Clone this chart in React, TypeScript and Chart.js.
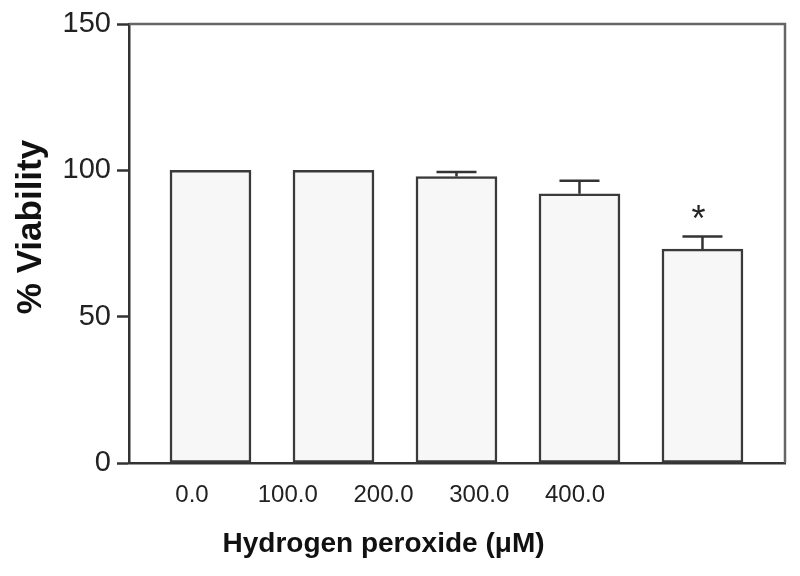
import { useEffect, useRef } from 'react';
import { Chart, registerables } from 'chart.js';

Chart.register(...registerables);

const categories = ['0.0', '100.0', '200.0', '300.0', '400.0'];
const viability = [100, 100, 97.9, 92.0, 73.1];
const errorUp = [0, 0, 1.5, 4.4, 4.3];
const significant = [false, false, false, false, true];
const yTicks = [0, 50, 100, 150];
const xTitle = 'Hydrogen peroxide (\u03bcM)';
const yTitle = '% Viability';

const FONT = '"Liberation Sans", Arial, Helvetica, sans-serif';

const overlay = {
  id: 'overlay',
  afterDatasetsDraw(chart: any) {
    const { ctx, chartArea, scales } = chart;
    const x = scales.x;
    const y = scales.y;
    const xl = scales.xl;
    ctx.save();
    // error bars (upper only)
    ctx.strokeStyle = '#333';
    ctx.lineWidth = 2.5;
    viability.forEach((v, i) => {
      const e = errorUp[i];
      const px = x.getPixelForValue(i);
      const top = y.getPixelForValue(v);
      const end = y.getPixelForValue(v + e);
      if (e) {
        ctx.beginPath();
        ctx.moveTo(px, top);
        ctx.lineTo(px, end);
        ctx.moveTo(px - 20, end);
        ctx.lineTo(px + 20, end);
        ctx.stroke();
      }
      if (significant[i]) {
        ctx.fillStyle = '#222';
        ctx.font = '36px ' + FONT;
        ctx.textAlign = 'center';
        ctx.textBaseline = 'alphabetic';
        ctx.fillText('*', px - 4, end - 5);
      }
    });
    // frame top & right
    ctx.strokeStyle = '#666';
    ctx.lineWidth = 2.5;
    ctx.beginPath();
    ctx.moveTo(chartArea.left, chartArea.top);
    ctx.lineTo(chartArea.right, chartArea.top);
    ctx.lineTo(chartArea.right, chartArea.bottom);
    ctx.stroke();

    // x title centred under the middle label
    ctx.fillStyle = '#111';
    ctx.font = 'bold 28px ' + FONT;
    ctx.textAlign = 'center';
    ctx.textBaseline = 'alphabetic';
    const mid = xl.getPixelForValue((categories.length - 1) / 2);
    ctx.fillText(xTitle, mid, 552);

    // y title
    ctx.translate(31, 227);
    ctx.rotate(-Math.PI / 2);
    ctx.font = 'bold 35px ' + FONT;
    ctx.textBaseline = 'middle';
    ctx.fillText(yTitle, 0, 0);
    ctx.restore();
  },
};

export default function App() {
  const ref = useRef<HTMLCanvasElement | null>(null);

  useEffect(() => {
    if (!ref.current) return;
    const chart = new Chart(ref.current, {
      type: 'bar',
      data: {
        datasets: [
          {
            data: viability.map((v, i) => ({ x: i, y: v })),
            backgroundColor: '#f7f7f7',
            borderColor: '#3a3a3a',
            borderWidth: 2.5,
            borderSkipped: false,
            barThickness: 81,
          },
        ],
      },
      options: {
        animation: false,
        responsive: true,
        maintainAspectRatio: false,
        layout: { padding: { top: 24, right: 15, left: 0, bottom: 0 } },
        plugins: { legend: { display: false }, tooltip: { enabled: false } },
        scales: {
          x: {
            type: 'linear',
            position: 'bottom',
            weight: 0,
            offset: false,
            min: -0.6626,
            max: 4.671,
            grid: { display: false, drawTicks: false, offset: false },
            border: { display: true, color: '#333', width: 2.5 },
            ticks: { display: false },
            afterBuildTicks: (s: any) => {
              s.ticks = categories.map((_, i) => ({ value: i }));
            },
            afterFit: (s: any) => {
              s.height = 0;
            },
          },
          xl: {
            type: 'linear',
            position: 'bottom',
            weight: 1,
            offset: false,
            min: -0.658,
            max: 6.193,
            grid: { display: false, drawTicks: false, offset: false },
            border: { display: false },
            ticks: {
              padding: 18,
              color: '#222',
              font: { family: FONT, size: 24 },
              maxRotation: 0,
              autoSkip: false,
              callback: (v: any) => categories[v] ?? '',
            },
            afterBuildTicks: (s: any) => {
              s.ticks = categories.map((_, i) => ({ value: i }));
            },
            afterFit: (s: any) => {
              s.height = 113;
            },
          },
          y: {
            min: 0,
            max: 150,
            grid: {
              drawOnChartArea: false,
              drawTicks: true,
              tickLength: 12,
              tickColor: '#333',
              tickWidth: 2.5,
            },
            border: { display: true, color: '#333', width: 2.5 },
            ticks: {
              padding: 6,
              color: '#222',
              font: { family: FONT, size: 29 },
              callback: (v: any) => String(v),
            },
            afterBuildTicks: (s: any) => {
              s.ticks = yTicks.map((t) => ({ value: t }));
            },
            afterFit: (s: any) => {
              s.width = 129;
            },
          },
        },
      },
      plugins: [overlay],
    });
    return () => chart.destroy();
  }, []);

  return (
    <div style={{ position: 'fixed', left: 0, top: 0, width: 800, height: 576, background: '#fff' }}>
      <canvas ref={ref} />
    </div>
  );
}
